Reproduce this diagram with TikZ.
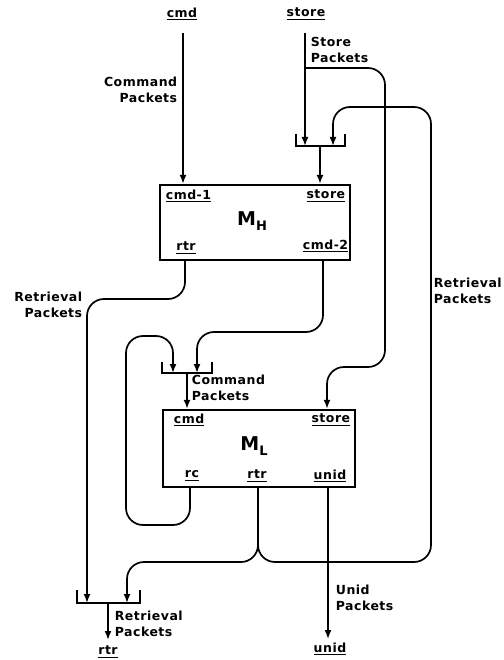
\documentclass[tikz,border=0pt]{standalone}
\usepackage{fontspec}
\setmainfont{DejaVu Sans}[LetterSpace=4]
\usetikzlibrary{arrows.meta}
\newcommand\ulbl[1]{\setbox0\hbox{#1}\leavevmode\rlap{\rule[-3.4pt]{\wd0}{1.5pt}}\box0}
\begin{document}
\begin{tikzpicture}[x=1pt,y=-1pt, line width=1.7pt,
  lbl/.style={font=\bfseries\fontsize{12.5}{16}\selectfont, inner sep=0pt, align=left},
  lblr/.style={lbl, align=right},
  port/.style={font=\bfseries\fontsize{12.5}{14}\selectfont, inner sep=0pt},
  box/.style={draw, line width=2.3pt, inner sep=0pt},
  arr/.style={-{Latex[length=9pt,width=7pt]}},
  wire/.style={rounded corners=17pt}]
\useasboundingbox (0,0) rectangle (503,660);

% boxes
\node[box, minimum width=190pt, minimum height=75pt] (MH) at (255,222.5) {};
\node[box, minimum width=192pt, minimum height=77pt] (ML) at (259,448.5) {};

% box labels
\node[port, anchor=west] (mhc1) at (165,196) {\ulbl{cmd-1}};
\node[port, anchor=east] (mhst) at (346,196) {\ulbl{store}};
\node[inner sep=0pt, font=\bfseries] (mhn) at (252,221) {{\fontsize{19}{19}\selectfont M}\raisebox{-5pt}{\fontsize{13}{13}\selectfont H}};
\node[port] (mhrtr) at (186,248) {\ulbl{rtr}};
\node[port, anchor=east] (mhc2) at (349,246) {\ulbl{cmd-2}};

\node[port, anchor=west] (mlcmd) at (173,420) {\ulbl{cmd}};
\node[port, anchor=east] (mlst) at (351,420) {\ulbl{store}};
\node[inner sep=0pt, font=\bfseries] (mln) at (254,446) {{\fontsize{19}{19}\selectfont M}\raisebox{-5pt}{\fontsize{13}{13}\selectfont L}};
\node[port] (mlrc) at (192,476) {\ulbl{rc}};
\node[port] (mlrtr) at (257,476) {\ulbl{rtr}};
\node[port] (mlunid) at (330,476) {\ulbl{unid}};

% external labels
\node[port] (tcmd) at (182,14) {\ulbl{cmd}};
\node[port] (tstore) at (306,14) {\ulbl{store}};
\node[port] (brtr) at (108,652) {\ulbl{rtr}};
\node[port] (bunid) at (330,649) {\ulbl{unid}};

\node[lblr, anchor=east] (lcp1) at (178,90) {Command\\Packets};
\node[lbl, anchor=west] (lsp) at (310,50) {Store\\Packets};
\node[lblr, anchor=east] (lrp1) at (83,305) {Retrieval\\Packets};
\node[lbl, anchor=west] (lrp2) at (433,291) {Retrieval\\Packets};
\node[lbl, anchor=west] (lcp2) at (191,388) {Command\\Packets};
\node[lbl, anchor=west] (lup) at (335,598) {Unid\\Packets};
\node[lbl, anchor=west] (lrp3) at (114,624) {Retrieval\\Packets};

% merge brackets
\coordinate (ta) at (296,134); \coordinate (tb) at (296,146);
\coordinate (tc) at (345,146); \coordinate (td) at (345,134);
\draw (ta) -- (tb) -- (tc) -- (td);
\coordinate (ma) at (162,362); \coordinate (mb) at (162,373);
\coordinate (mc) at (212,373); \coordinate (md) at (212,362);
\draw (ma) -- (mb) -- (mc) -- (md);
\coordinate (ba) at (77,590); \coordinate (bb) at (77,603);
\coordinate (bc) at (140,603); \coordinate (bd) at (140,590);
\draw (ba) -- (bb) -- (bc) -- (bd);

% top inputs
\coordinate (cmdtop) at (183,33);
\draw[arr] (cmdtop) -- (cmdtop |- MH.north);
\coordinate (storetop) at (305,33);
\draw[arr] (storetop) -- (storetop |- tb);
\coordinate (tmout) at (320,146);
\draw[arr] (tmout) -- (tmout |- MH.north);

% store branch to M_L store
\coordinate (sbr) at (305,68);
\coordinate (mlstin) at (327,0);
\draw[arr, wire] (sbr) -- (385,68) -- (385,367) -- (327,367) -- (mlstin |- ML.north);

% M_L rtr split
\coordinate (rtrx) at (258,0);
\coordinate (mlrtro) at (rtrx |- ML.south);
\coordinate (trin) at (333,0);
\coordinate (blin) at (127,0);
\draw[arr, wire] (mlrtro) -- (258,562) -- (431,562) -- (431,107) -- (333,107) -- (trin |- tb);
\draw[arr, wire] (mlrtro) -- (258,562) -- (127,562) -- (blin |- bb);

% M_H rtr to bottom merge
\coordinate (mhrtrx) at (185,0);
\coordinate (brin) at (87,0);
\draw[arr, wire] (mhrtrx |- MH.south) -- (185,299) -- (87,299) -- (brin |- bb);

% M_H cmd-2 to middle merge
\coordinate (mhc2x) at (323,0);
\coordinate (mrin) at (197,0);
\draw[arr, wire] (mhc2x |- MH.south) -- (323,332) -- (197,332) -- (mrin |- mb);

% middle merge out
\coordinate (mmout) at (187,373);
\draw[arr] (mmout) -- (mmout |- ML.north);

% rc loop
\coordinate (rcx) at (190,0);
\coordinate (mlin) at (173,0);
\draw[arr, wire] (rcx |- ML.south) -- (190,525) -- (126,525) -- (126,336) -- (173,336) -- (mlin |- mb);

% unid
\coordinate (unidx) at (328,0);
\coordinate (unidend) at (328,639);
\draw[arr] (unidx |- ML.south) -- (unidend);

% bottom merge out
\coordinate (bmout) at (108,603);
\coordinate (bmend) at (108,640);
\draw[arr] (bmout) -- (bmend);
\end{tikzpicture}
\end{document}
